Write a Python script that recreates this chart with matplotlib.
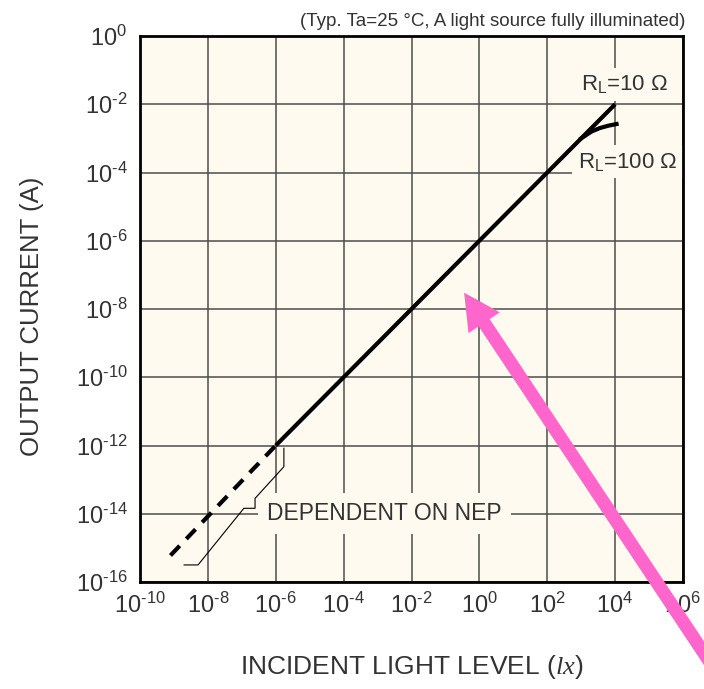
import numpy as np
import matplotlib
matplotlib.use('Agg')
import matplotlib.pyplot as plt
from matplotlib.ticker import FixedLocator, FuncFormatter, NullLocator

plt.rcParams['font.family'] = ['Liberation Sans', 'DejaVu Sans']
plt.rcParams['mathtext.fontset'] = 'custom'
plt.rcParams['mathtext.rm'] = 'Liberation Sans'
plt.rcParams['mathtext.it'] = 'Liberation Serif:italic'

# output current vs illuminance (lx -> A)
solid_lux = [1e-6, 1e4]
solid_current = [1e-12, 1e-2]
# low end, limited by NEP (dashed)
nep_lux = [7.9e-10, 1e-6]
nep_current = [6e-16, 1e-12]
# RL=100 ohm starts to saturate
rl100_lux = [1e3, 2e3, 3.5e3, 6.3e3, 1.1e4]
rl100_current = [1e-3, 1.58e-3, 2.0e-3, 2.35e-3, 2.63e-3]

x_exp = [-10, -8, -6, -4, -2, 0, 2, 4, 6]
y_exp = [-16, -14, -12, -10, -8, -6, -4, -2, 0]

# brace beside the dashed part, log10 coords
brace_lux_exp = [-8.70, -8.29, -6.94, -6.61, -6.61, -5.76, -5.76]
brace_cur_exp = [-15.50, -15.50, -13.84, -13.84, -13.55, -12.62, -12.08]

# pink pointer: tip in data, tail in figure pixels
arrow_tip = (10 ** -0.45, 10 ** -7.52)
arrow_tail = (775, -71)

bg = '#fefaef'
txt = '#333333'


def exp_label(v, pos):
    e = int(round(np.log10(v)))
    s = str(e).replace('-', '\u2010')
    return r'$\mathregular{10^{%s}}$' % s


fig = plt.figure(figsize=(7.04, 6.89), dpi=100)
ax = fig.add_axes([140 / 704, 1 - 582 / 689, 543 / 704, 546 / 689])
ax.set_facecolor(bg)
ax.set_xscale('log')
ax.set_yscale('log')
ax.set_xlim(1e-10, 1e6)
ax.set_ylim(1e-16, 1e0)

ax.xaxis.set_major_locator(FixedLocator([10.0 ** e for e in x_exp]))
ax.yaxis.set_major_locator(FixedLocator([10.0 ** e for e in y_exp]))
ax.xaxis.set_minor_locator(NullLocator())
ax.yaxis.set_minor_locator(NullLocator())
ax.xaxis.set_major_formatter(FuncFormatter(exp_label))
ax.yaxis.set_major_formatter(FuncFormatter(exp_label))
ax.tick_params(length=0, labelsize=17, labelcolor=txt)
ax.tick_params(axis='x', pad=8)
ax.tick_params(axis='y', pad=9)
ax.grid(True, color='#4d4d4d', lw=1.1)
ax.set_axisbelow(True)
for s in ax.spines.values():
    s.set_linewidth(2.0)
    s.set_color('black')

ax.plot(solid_lux, solid_current, color='black', lw=3.0, solid_capstyle='butt', zorder=3)
ax.plot(nep_lux, nep_current, color='black', lw=3.0, ls=(0, (3.2, 2.3)), zorder=3)
ax.plot(rl100_lux, rl100_current, color='black', lw=3.0, zorder=3)
ax.plot(10.0 ** np.array(brace_lux_exp), 10.0 ** np.array(brace_cur_exp), color='black', lw=0.8, zorder=3)

box = dict(boxstyle='square,pad=0.25', fc=bg, ec='none')
ax.text(10 ** 4.29, 10 ** -1.41, r'R$_\mathregular{L}$=10 Ω', fontsize=16, color=txt,
        ha='center', va='center', bbox=box, zorder=2)
ax.text(10 ** 4.36, 10 ** -3.69, r'R$_\mathregular{L}$=100 Ω', fontsize=16, color=txt,
        ha='center', va='center', bbox=box, zorder=2)
ax.text(10 ** -2.79, 10 ** -14.0, 'DEPENDENT ON NEP', fontsize=16.5, color=txt,
        ha='center', va='center', bbox=dict(boxstyle='square,pad=0.4', fc=bg, ec='none'), zorder=2)

ax.text(1.005, 1.018, '(Typ. Ta=25 °C, A light source fully illuminated)', transform=ax.transAxes,
        ha='right', va='baseline', fontsize=13.5, color=txt)

ax.set_ylabel('OUTPUT CURRENT (A)', fontsize=18.5, color=txt, va='center')
ax.yaxis.set_label_coords(-0.199, 0.487)
ax.set_xlabel(r'INCIDENT LIGHT LEVEL ($\it{lx}$)', fontsize=19, color=txt, va='center')
ax.xaxis.set_label_coords(0.5, -0.156)

ax.annotate('', xy=arrow_tip, xycoords='data', xytext=arrow_tail, textcoords='figure pixels',
            arrowprops=dict(width=9.5, headwidth=27, headlength=26, facecolor='#ff66cc',
                            edgecolor='none', shrink=0),
            annotation_clip=False, zorder=6)

fig.savefig('out.png', dpi=100)
